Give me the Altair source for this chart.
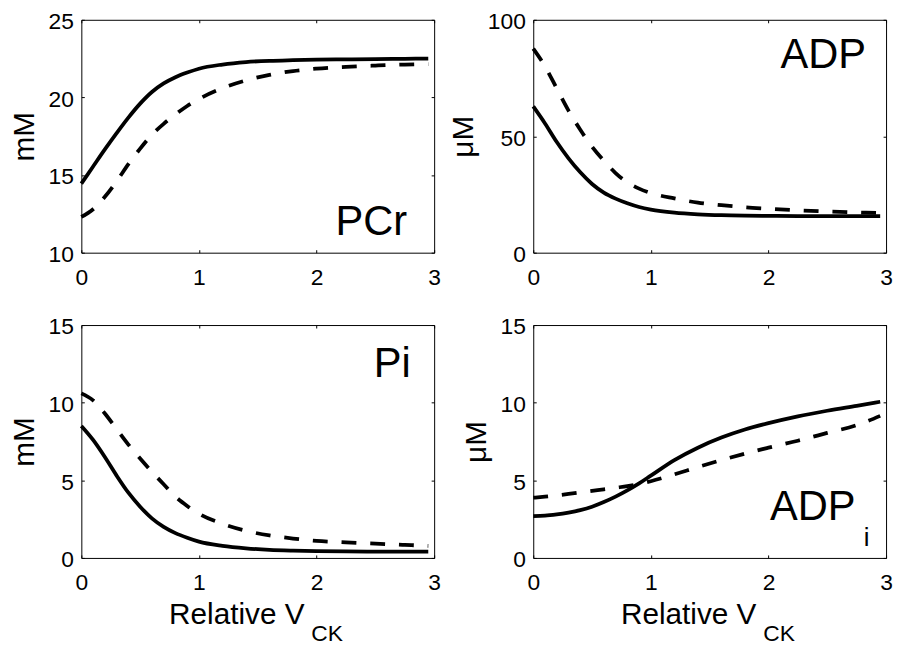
import altair as alt
import pandas as pd

FONT = "Liberation Sans"

# Relative V_CK sample positions
X = [0, 0.1, 0.2, 0.3, 0.4, 0.5, 0.6, 0.7, 0.8, 0.9, 1.0, 1.2, 1.4, 1.6, 1.8, 2.0, 2.25, 2.5, 2.75, 2.95]

# PCr (mM)
pcr_solid = [14.45, 15.55, 16.65, 17.7, 18.7, 19.6, 20.35, 20.9, 21.3, 21.6, 21.85, 22.12, 22.28, 22.36, 22.4, 22.43, 22.45, 22.47, 22.49, 22.5]
pcr_dashed = [12.3, 12.8, 13.6, 14.6, 15.7, 16.7, 17.6, 18.3, 18.9, 19.45, 19.9, 20.6, 21.1, 21.45, 21.7, 21.85, 21.97, 22.05, 22.12, 22.15]

# ADP (uM)
adp_solid = [62.8, 55.5, 47.5, 40.5, 34.5, 29.5, 25.8, 23.2, 21.2, 19.6, 18.5, 17.2, 16.5, 16.1, 15.9, 15.8, 15.7, 15.7, 15.7, 15.7]
adp_dashed = [87.6, 80.0, 70.5, 61.0, 52.8, 45.5, 39.5, 34.2, 30.2, 27.5, 25.6, 23.3, 21.5, 20.4, 19.5, 18.9, 18.2, 17.7, 17.3, 17.0]

# Pi (mM)
pi_solid = [8.5, 7.6, 6.5, 5.3, 4.2, 3.3, 2.55, 2.0, 1.6, 1.3, 1.05, 0.78, 0.62, 0.52, 0.47, 0.44, 0.42, 0.41, 0.4, 0.4]
pi_dashed = [10.6, 10.15, 9.3, 8.3, 7.3, 6.4, 5.55, 4.75, 3.95, 3.35, 2.85, 2.2, 1.75, 1.45, 1.25, 1.1, 1.0, 0.92, 0.84, 0.78]

# ADP_i (uM)
adpi_solid = [2.7, 2.72, 2.8, 2.92, 3.08, 3.3, 3.6, 3.95, 4.35, 4.8, 5.3, 6.3, 7.1, 7.75, 8.27, 8.68, 9.12, 9.48, 9.8, 10.06]
adpi_dashed = [3.88, 3.95, 4.03, 4.12, 4.22, 4.32, 4.42, 4.52, 4.62, 4.76, 4.94, 5.38, 5.85, 6.3, 6.72, 7.1, 7.55, 8.05, 8.55, 9.15]

X_TICKS = [0, 1, 2, 3]
Y_TICKS_PCR = [10, 15, 20, 25]
Y_TICKS_ADP = [0, 50, 100]
Y_TICKS_15 = [0, 5, 10, 15]

W, H = 356, 235


def make_df(solid, dashed):
    return pd.DataFrame({
        "x": X + X,
        "y": solid + dashed,
        "series": ["solid"] * len(X) + ["dashed"] * len(X),
    })


common = dict(offset=-3, tickSize=3, tickWidth=1, tickColor="black", domain=False, grid=False,
              labelFont=FONT, labelFontSize=23, labelColor="black", labelOverlap=False,
              labelFlush=False, labelBound=False)


def panel(solid, dashed, ydom, yticks, ytitle, labels, bottom):
    df = make_df(solid, dashed)
    xs = alt.Scale(domain=[0, 3], nice=False, zero=False)
    ys = alt.Scale(domain=ydom, nice=False, zero=False)
    if bottom:
        xaxis = alt.Axis(orient="bottom", values=X_TICKS, format="d", labelPadding=14,
                         title="Relative V", titleFont=FONT, titleFontSize=30, titleFontWeight="normal",
                         titleColor="black", titleAlign="left", titleBaseline="alphabetic",
                         titleX=88, titleY=69, **common)
    else:
        xaxis = alt.Axis(orient="bottom", values=X_TICKS, format="d", labelPadding=14, title=None, **common)
    yaxis = alt.Axis(orient="left", values=yticks, format="d", labelPadding=8, labelOffset=2, title=ytitle,
                     titleFont=FONT, titleFontSize=30, titleFontWeight="normal", titleColor="black",
                     titlePadding=9, **common)
    top_axis = alt.Axis(orient="top", values=X_TICKS, labels=False, title=None, offset=-3, tickSize=3,
                        tickColor="black", domain=False, grid=False)
    right_axis = alt.Axis(orient="right", values=yticks, labels=False, title=None, offset=-3, tickSize=3,
                          tickColor="black", domain=False, grid=False)

    base = alt.Chart(df)
    solid_l = base.transform_filter(alt.datum.series == "solid").mark_line(
        color="black", strokeWidth=3.8, interpolate="monotone").encode(
        x=alt.X("x:Q", scale=xs, axis=xaxis), y=alt.Y("y:Q", scale=ys, axis=yaxis))
    dashed_l = base.transform_filter(alt.datum.series == "dashed").mark_line(
        color="black", strokeWidth=3.8, strokeDash=[15, 14], interpolate="monotone").encode(
        x=alt.X("x:Q", scale=xs, axis=top_axis), y=alt.Y("y:Q", scale=ys, axis=right_axis))

    layers = [solid_l, dashed_l]
    for text, lx, ly, size, align in labels:
        ldf = pd.DataFrame({"x": [lx], "y": [ly], "t": [text]})
        layers.append(alt.Chart(ldf).mark_text(font=FONT, fontSize=size, color="black", align=align,
                                               baseline="alphabetic").encode(
            x=alt.X("x:Q", scale=xs, axis=None), y=alt.Y("y:Q", scale=ys, axis=None), text="t:N"))
    if bottom:
        sdf = pd.DataFrame({"t": ["CK"]})
        layers.append(alt.Chart(sdf).mark_text(font=FONT, fontSize=23, color="black", align="left",
                                               baseline="alphabetic").encode(
            x=alt.value(232), y=alt.value(319), text="t:N"))
    return alt.layer(*layers).resolve_axis(x="independent", y="independent").properties(width=W, height=H)


p1 = panel(pcr_solid, pcr_dashed, [10, 25], Y_TICKS_PCR, "mM",
           [("PCr", 2.77, 11.15, 42, "right")], False)
p2 = panel(adp_solid, adp_dashed, [0, 100], Y_TICKS_ADP, "μM",
           [("ADP", 2.83, 79.5, 42, "right")], False)
p3 = panel(pi_solid, pi_dashed, [0, 15], Y_TICKS_15, "mM",
           [("Pi", 2.8, 11.68, 42, "right")], True)
p4 = panel(adpi_solid, adpi_dashed, [0, 15], Y_TICKS_15, "μM",
           [("ADP", 2.74, 2.45, 42, "right"), ("i", 2.81, 0.75, 26, "left")], True)

chart = alt.concat(p1, p2, p3, p4, columns=2).properties(
    spacing={"row": 73, "column": 100}, bounds="flush",
    padding={"left": 0, "top": -1, "right": 0, "bottom": 0},
).configure(background="white").configure_view(stroke="black", strokeWidth=1)

chart.save("out.html", embed_options={"renderer": "svg", "actions": False})
